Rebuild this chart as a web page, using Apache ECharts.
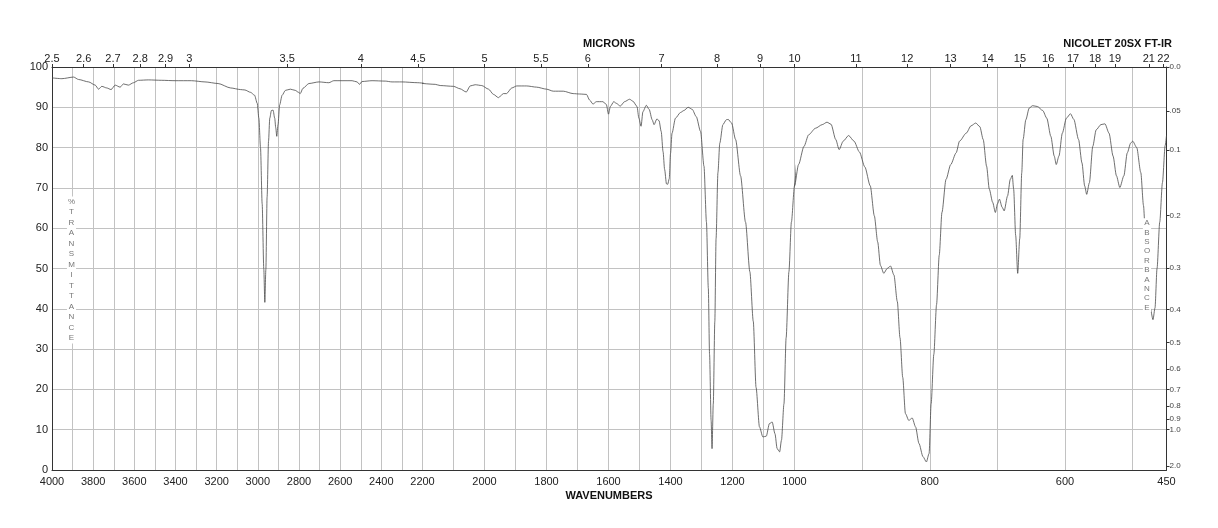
<!DOCTYPE html>
<html><head><meta charset="utf-8">
<script src="https://cdn.jsdelivr.net/npm/echarts@6/dist/echarts.min.js"></script>
<style>html,body{margin:0;padding:0;background:#fff}#c{width:1218px;height:528px}</style>
</head><body><div id="c"></div>
<script>
// ---- data (wavenumber cm-1, %T) ----
const wavenumbers = [4000,3952,3895,3871,3822,3790,3774,3758,3734,3713,3693,3669,3653,3629,3604,3580,3532,3467,3402,3322,3257,3193,3132,3084,3063,3035,3016,3003,2995,2987,2979,2971,2966,2961,2955,2948,2942,2934,2926,2918,2913,2908,2902,2894,2882,2866,2842,2818,2802,2794,2781,2752,2703,2655,2631,2542,2518,2506,2494,2445,2381,2348,2300,2223,
2159,2143,2100,2079,2059,2046,2030,2009,1987,1971,1955,1939,1929,1912,1896,1864,1832,1800,1778,1746,1714,1693,1671,1661,1650,1639,1618,1607,1600,1594,1583,1575,1562,1548,1532,1521,1508,1502,1495,1489,1478,1469,1459,1453,1444,1437,1430,1424,1419,1413,1409,1404,1400,1395,1384,1368,1357,1343,1330,1317,1303,1292,1284,1278,1274,1269,1266,1262,1257,1253,1247,1241,1231,1220,1214,1203,1190,1174,1158,1144,1133,1124,1113,1102,1091,1081,1072,1063,1056,1048,1042,1034,1027,1018,1010,1000,
994,986,979,969,959,952,946,939,934,928,920,912,904,896,888,882,877,873,868,863,858,853,848,844,840,836,831,826,821,816,810,805,801,798,794,790,786,782,776,769,761,756,746,739,732,726,721,716,712,707,703,700,697,693,690,685,681,678,676,673,670,667,664,662,658,653,648,641,633,627,621,616,613,609,604,598,592,587,580,575,571,568,564,559,554,547,541,535,529,524,519,513,508,503,500,494,488,484,481,477,474,470,467,464,460,456,452,450];
const transmittance = [97.3,97.1,97.5,96.9,96.3,95.5,94.5,95.2,94.8,94.4,95.5,95.0,95.8,95.5,96.1,96.7,96.8,96.7,96.6,96.6,96.3,95.9,94.8,94.4,94.3,93.7,93.0,91.0,87.3,80.0,66.1,49.8,41.6,49.8,67.7,81.6,87.3,89.2,89.3,87.3,84.9,82.8,85.7,90.6,93.0,94.2,94.5,94.2,93.7,93.4,94.7,95.9,96.3,96.1,96.6,96.6,96.3,95.7,96.4,96.6,96.5,96.3,96.3,96.1,
95.7,95.4,95.2,94.6,93.8,95.3,95.6,95.4,94.5,93.2,92.4,93.4,93.4,94.8,95.3,95.3,95.0,94.5,94.0,94.0,93.4,93.3,93.2,91.8,90.8,91.4,91.4,90.7,88.3,90.2,91.4,91.0,90.3,91.4,92.0,91.5,90.2,87.3,85.3,88.9,90.5,89.5,86.9,85.7,87.1,86.7,84.0,79.0,74.6,71.0,70.9,72.3,78.5,83.6,87.3,88.7,89.2,90.0,89.5,87.7,84.0,75.4,61.5,45.1,28.7,12.3,5.3,16.4,36.9,57.4,73.8,81.1,85.7,86.9,87.0,86.1,82.0,73.0,61.5,49.2,36.9,20.5,10.7,8.2,8.4,11.5,11.9,9.0,5.3,4.5,7.4,16.4,32.8,49.2,61.5,70.5,
75.8,80.3,83.2,84.8,85.7,86.3,85.8,82.0,79.5,81.6,83.0,81.6,78.9,75.2,70.5,63.1,56.6,50.8,48.8,50.0,50.6,48.4,41.8,32.8,23.0,14.0,12.3,12.9,10.7,6.6,3.3,2.0,4.1,16.4,28.7,41.0,53.3,63.9,72.1,75.8,78.7,81.6,83.6,85.4,86.1,85.2,82.0,75.4,69.7,66.4,63.9,66.0,67.2,65.2,64.3,68.0,72.1,73.1,69.7,58.2,48.8,57.4,73.8,82.0,86.9,89.8,90.4,90.2,89.2,87.3,82.8,77.9,75.8,77.9,83.6,87.3,88.4,87.0,82.0,76.2,70.5,68.4,71.3,80.3,84.4,85.7,85.9,83.6,77.9,73.0,70.1,73.0,78.7,81.1,81.6,80.0,73.8,65.6,57.4,48.4,40.2,37.3,40.2,50.0,61.5,71.3,80.5,83.0];

// ---- axis ticks / labels ----
const segments = [[2200, 4000], [1000, 2200], [450, 1000]];
const wavenumberLabels = [4000,3800,3600,3400,3200,3000,2800,2600,2400,2200,2000,1800,1600,1400,1200,1000,800,600,450];
const micronLabels = [2.5,2.6,2.7,2.8,2.9,3,3.5,4,4.5,5,5.5,6,7,8,9,10,11,12,13,14,15,16,17,18,19,21,22];
const absorbanceLabels = ['0.0','.05','0.1','0.2','0.3','0.4','0.5','0.6','0.7','0.8','0.9','1.0','2.0'];
const absorbanceValues = [0,0.05,0.1,0.2,0.3,0.4,0.5,0.6,0.7,0.8,0.9,1.0,2.0];
const gridLefts = [52, 422.5, 794.5];
const gridWidths = [370.5, 372, 372];

const FONT = 'Liberation Sans, Arial, sans-serif';
const GRIDC = '#c2c2c2';
const AXC = '#333';

const micronWn = micronLabels.map(m => 10000 / m);
const micronMap = {};
micronLabels.forEach((m, i) => { micronMap[micronWn[i].toFixed(4)] = String(m); });
const absT = absorbanceValues.map(a => 100 * Math.pow(10, -a));
const absMap = {};
absT.forEach((t, i) => { absMap[t.toFixed(4)] = absorbanceLabels[i]; });

function inSeg(v, i) {
  const [lo, hi] = segments[i];
  if (i === 0) return v >= lo && v <= hi;
  return v >= lo && v < hi;
}

const grids = [], xAxes = [], yAxes = [], series = [];
segments.forEach(([lo, hi], i) => {
  grids.push({ left: gridLefts[i], width: gridWidths[i], top: 67, height: 403, containLabel: false });
  const bottomLabels = wavenumberLabels.filter(v => inSeg(v, i));
  const bottomAxis = {
    gridIndex: i, type: 'value', position: 'bottom', min: lo, max: hi, inverse: true, interval: 100,
    axisLine: { show: true, onZero: false, lineStyle: { color: AXC, width: 1 } },
    axisTick: { show: false },
    axisLabel: { customValues: bottomLabels, color: '#222', fontSize: 11, fontFamily: FONT, margin: 6, hideOverlap: false,
      formatter: v => String(Math.round(v)) },
    splitLine: { show: true, lineStyle: { color: GRIDC, width: 1 } }
  };
  if (i === 2) {
    bottomAxis.interval = 50;
    bottomAxis.axisTick = { show: false, customValues: [500, 600, 700, 800, 900, 1000] };
  }
  xAxes[i] = bottomAxis;
  const mv = micronWn.filter(v => inSeg(v, i));
  xAxes[3 + i] = {
    gridIndex: i, type: 'value', position: 'top', min: lo, max: hi, inverse: true,
    axisLine: { show: true, onZero: false, lineStyle: { color: AXC, width: 1 } },
    axisTick: { show: true, inside: false, length: 3, customValues: mv, lineStyle: { color: AXC } },
    axisLabel: { customValues: mv, color: '#222', fontSize: 11, fontFamily: FONT, margin: 3,
      formatter: v => micronMap[Number(v).toFixed(4)] || '' },
    splitLine: { show: false }
  };
  yAxes[i] = {
    gridIndex: i, type: 'value', min: 0, max: 100, interval: 10, position: 'left',
    axisLine: { show: i === 0, onZero: false, lineStyle: { color: AXC, width: 1 } },
    axisTick: { show: false },
    axisLabel: { show: i === 0, color: '#222', fontSize: 11, fontFamily: FONT, margin: 4 },
    splitLine: { show: true, lineStyle: { color: GRIDC, width: 1 } }
  };
  // segment data, with one neighbour on each side so the clipped line reaches the edge
  const pts = [];
  for (let k = 0; k < wavenumbers.length; k++) {
    const w = wavenumbers[k];
    const prevIn = k > 0 && wavenumbers[k - 1] >= lo && wavenumbers[k - 1] <= hi;
    const nextIn = k < wavenumbers.length - 1 && wavenumbers[k + 1] >= lo && wavenumbers[k + 1] <= hi;
    if ((w >= lo && w <= hi) || prevIn || nextIn) pts.push([w, transmittance[k]]);
  }
  series.push({
    type: 'line', xAxisIndex: i, yAxisIndex: i, data: pts, showSymbol: false, symbol: 'none',
    smooth: 0.25, smoothMonotone: 'x', clip: true,
    lineStyle: { color: '#4a4a4a', width: 0.8 }, silent: true, animation: false
  });
});
yAxes[3] = {
  gridIndex: 2, type: 'value', min: 0, max: 100, position: 'right',
  axisLine: { show: true, onZero: false, lineStyle: { color: AXC, width: 1 } },
  axisTick: { show: true, inside: false, length: 3, customValues: absT, lineStyle: { color: AXC } },
  axisLabel: { customValues: absT, color: '#444', fontSize: 8, fontFamily: FONT, margin: 3,
    formatter: v => absMap[Number(v).toFixed(4)] || '' },
  splitLine: { show: false }
};

const chart = echarts.init(document.getElementById('c'), null, { renderer: 'canvas' });
chart.setOption({
  animation: false,
  backgroundColor: '#fff',
  grid: grids, xAxis: xAxes, yAxis: yAxes, series: series,
  graphic: [
    { type: 'text', x: 609, y: 44, style: { text: 'MICRONS', font: 'bold 11px ' + FONT, fill: '#111', align: 'center', verticalAlign: 'middle' } },
    { type: 'text', x: 1172, y: 44, style: { text: 'NICOLET 20SX FT-IR', font: 'bold 11px ' + FONT, fill: '#111', align: 'right', verticalAlign: 'middle' } },
    { type: 'text', x: 609, y: 496, style: { text: 'WAVENUMBERS', font: 'bold 11px ' + FONT, fill: '#111', align: 'center', verticalAlign: 'middle' } },
    { type: 'text', x: 71.5, y: 196.5, z: 10, style: { text: '%\nT\nR\nA\nN\nS\nM\nI\nT\nT\nA\nN\nC\nE', font: '8px ' + FONT, lineHeight: 10.5, fill: '#777', align: 'center', verticalAlign: 'top', backgroundColor: '#fff', padding: [0, 1] } },
    { type: 'text', x: 1147, y: 218.3, z: 10, style: { text: 'A\nB\nS\nO\nR\nB\nA\nN\nC\nE', font: '8px ' + FONT, lineHeight: 9.4, fill: '#777', align: 'center', verticalAlign: 'top', backgroundColor: '#fff', padding: [0, 1] } }
  ]
});
</script></body></html>
